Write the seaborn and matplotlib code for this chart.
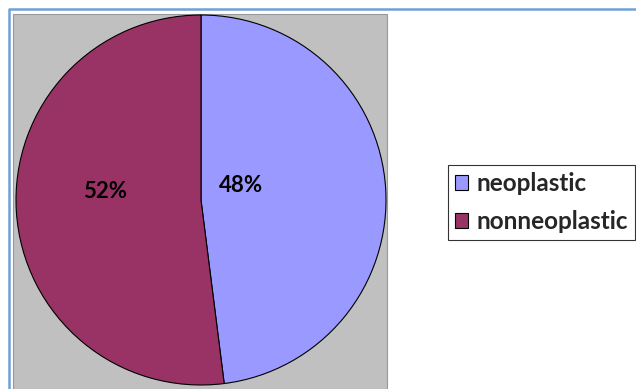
import matplotlib
matplotlib.use("Agg")
import matplotlib.pyplot as plt
import seaborn as sns
from matplotlib.patches import Patch, Rectangle
from matplotlib.lines import Line2D

categories = ["neoplastic", "nonneoplastic"]
values = [48, 52]
colors = ["#9999FF", "#993366"]

sns.set_theme(style="white")
plt.rcParams['font.family'] = ['Lato', 'DejaVu Sans']

W, H = 636, 389
fig = plt.figure(figsize=(W / 100, H / 100), dpi=100)
fig.patch.set_facecolor("white")

# gray plot area
fig.add_artist(Rectangle((13 / W, 0), (387 - 13) / W, (389 - 14) / H,
                         transform=fig.transFigure, facecolor="#C0C0C0",
                         edgecolor="#999999", linewidth=0.8, zorder=0))

ax = fig.add_axes([13 / W, 0, (387 - 13) / W, (389 - 14) / H])
ax.patch.set_alpha(0)
wedges, texts = ax.pie(values, colors=colors, startangle=90, counterclock=False,
                       wedgeprops=dict(edgecolor="black", linewidth=0.8))
cx, cy, r = 201, 200, 185
ax.set_xlim((13 - cx) / r, (387 - cx) / r)
ax.set_ylim((cy - 389) / r, (cy - 14) / r)
ax.set_aspect("equal", adjustable="box")

# percentage labels
ax.text((241 - cx) / r, (cy - 185) / r, "48%", ha="center", va="center",
        fontsize=16, fontweight="bold", color="black")
ax.text((105 - cx) / r, (cy - 192) / r, "52%", ha="center", va="center",
        fontsize=16, fontweight="bold", color="black")

# legend
handles = [Patch(facecolor=c, edgecolor="black", linewidth=0.8) for c in colors]
leg = fig.legend(handles, categories, loc="upper left",
                 bbox_to_anchor=(448 / W, 1 - 165 / H), frameon=True,
                 fancybox=False, prop=dict(size=17.5, weight="bold"),
                 handlelength=0.55, handleheight=0.55, handletextpad=0.35,
                 labelspacing=0.62, borderpad=0.28, borderaxespad=0)
leg.get_frame().set_edgecolor("black")
leg.get_frame().set_linewidth(0.8)

# outer blue frame
fig.add_artist(Line2D([9 / W, 9 / W, 1.0], [0, 1 - 9 / H, 1 - 9 / H],
                      transform=fig.transFigure, color="#6FA0D8", linewidth=1.8))

fig.savefig("out.png", dpi=100)
